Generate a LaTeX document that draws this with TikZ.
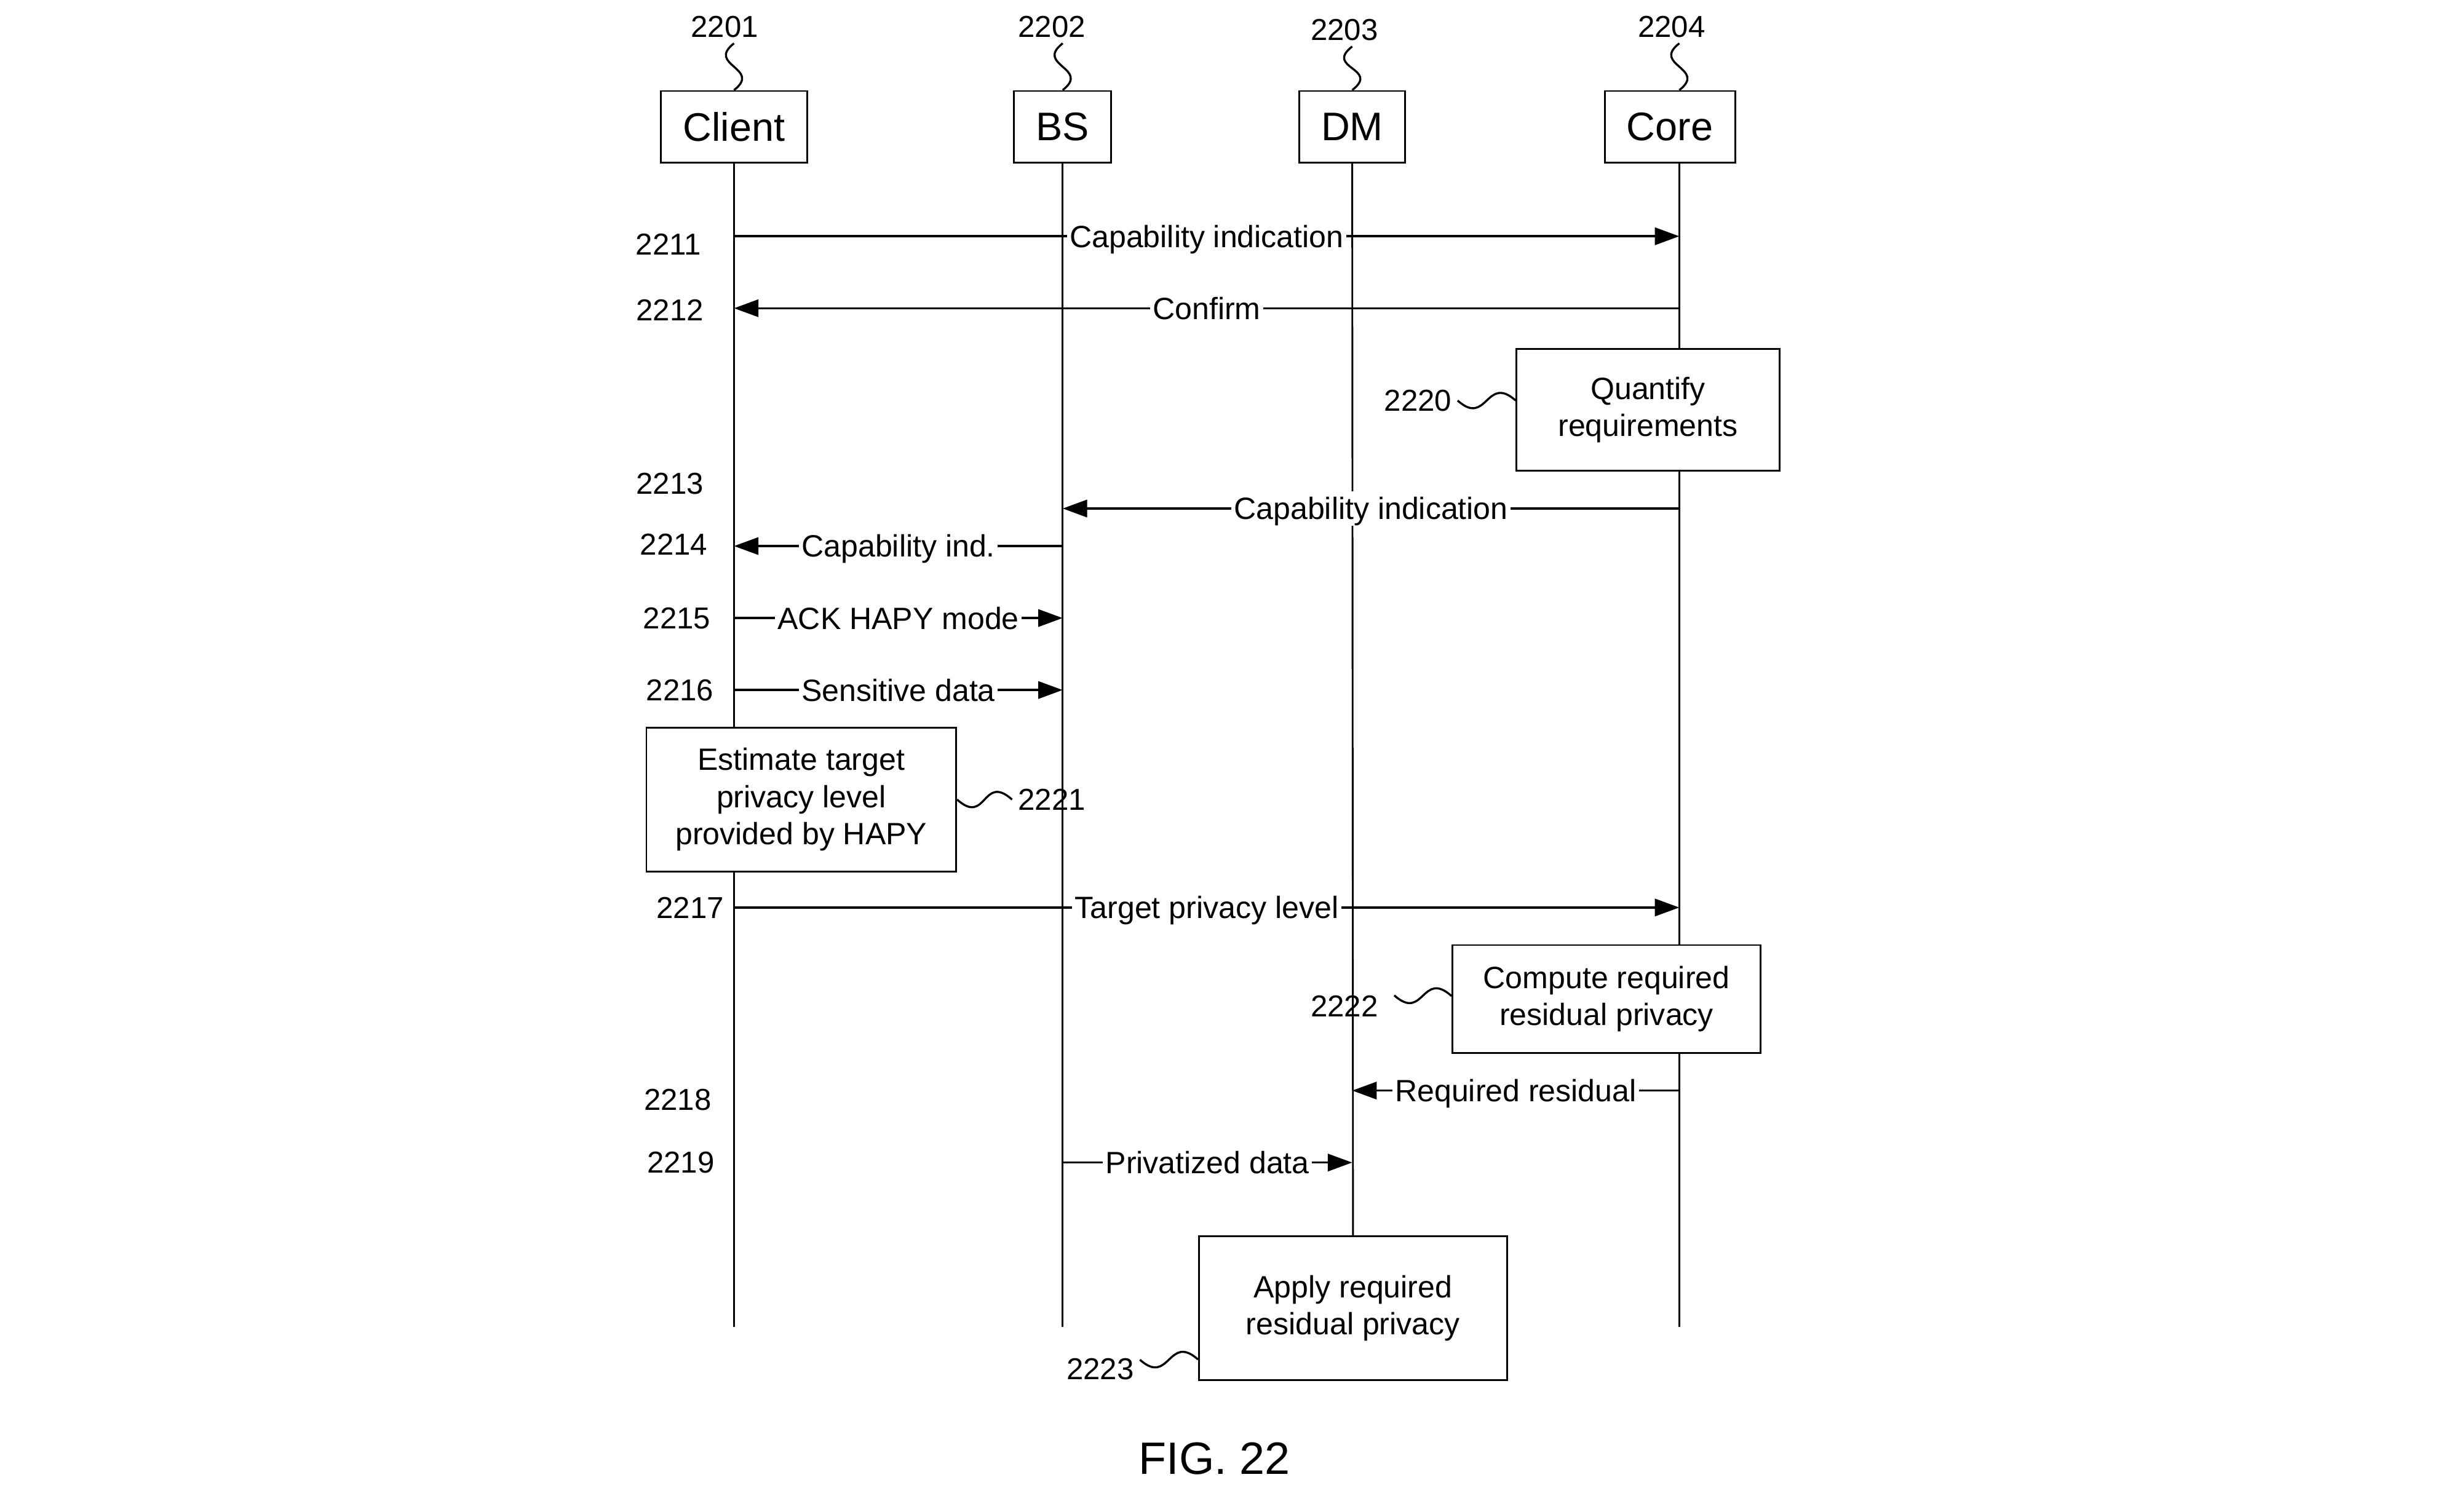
\documentclass[tikz,border=0pt]{standalone}
\usepackage{fontspec}
\setmainfont{Liberation Sans}
\usetikzlibrary{arrows.meta}

\newcommand{\lblfont}{\fontsize{11.2}{13.5}\selectfont}

\begin{document}
\begin{tikzpicture}[
      x=0.02cm, y=-0.02cm,
      head/.style = {draw, line width=0.65pt, inner xsep=8pt,
                     minimum height=26pt, font=\fontsize{14.5}{17}\selectfont},
      proc/.style = {draw, fill=white, line width=0.65pt, align=center,
                     minimum width=3.94cm, font=\lblfont},
      ref/.style  = {inner sep=2pt, font=\fontsize{11}{13}\selectfont},
      life/.style = {line width=0.65pt},
      msg/.style  = {-{Triangle[length=8.9pt,width=6.3pt]}, line width=0.8pt},
      lbl/.style  = {fill=white, inner sep=1pt, text height=9.2pt,
                     text depth=1.2pt, font=\lblfont},
      wig/.style  = {line width=0.75pt,
                     to path={.. controls +(19,17) and +(-19,-17) .. (\tikztotarget)}},
      wigv/.style = {line width=0.75pt,
                     to path={.. controls +(-18,14) and +(18,-14) .. (\tikztotarget)}},
    ]
    \useasboundingbox (0,0) rectangle (1568,966);

    % entities
    \node[head] (client) at (469,81)  {Client};
    \node[head] (bs)     at (679,81)  {BS};
    \node[head] (dm)     at (864,81)  {DM};
    \node[head] (core)   at (1067,81) {Core};
    \coordinate (coreX) at (1073,81);
    \coordinate (bot)   at (0,848);

    \node[ref] (n2201) at (463,17)  {2201};
    \node[ref] (n2202) at (672,17)  {2202};
    \node[ref] (n2203) at (859,19)  {2203};
    \node[ref] (n2204) at (1068,17) {2204};
    \draw[wigv] (n2201.south -| client) to (client.north);
    \draw[wigv] (n2202.south -| bs)     to (bs.north);
    \draw[wigv] (n2203.south -| dm)     to (dm.north);
    \draw[wigv] (n2204.south -| coreX)  to (coreX |- core.north);

    % lifelines
    \draw[life] (client.south)       -- (client |- bot);
    \draw[life] (bs.south)           -- (bs |- bot);
    \draw[life] (coreX |- core.south) -- (coreX |- bot);

    % processing steps
    \node[proc, minimum width=3.36cm, minimum height=1.56cm] (quant) at (1053,262)
          {Quantify\\requirements};
    \node[proc, minimum width=3.96cm, minimum height=1.84cm] (est) at (512,511)
          {Estimate target\\privacy level\\provided by HAPY};
    \node[proc, minimum height=1.38cm] (comp) at (1026.5,638.5)
          {Compute required\\residual privacy};
    \node[proc, minimum height=1.84cm] (apply) at (864.5,836)
          {Apply required\\residual privacy};
    \draw[life] (dm.south) -- (apply.north);

    \node[ref] (n2220) at (906,256) {2220};
    \node[ref] (n2221) at (672,511) {2221};
    \node[ref] (n2222) at (859,643) {2222};
    \node[ref] (n2223) at (703,875) {2223};
    \draw[wig] (n2220.east) to (quant.west |- n2220);
    \draw[wig] (est.east)   to (n2221.west);
    \draw[wig] ([xshift=3.7pt,yshift=3.9pt]n2222.east) to ([yshift=1.1pt]comp.west);
    \draw[wig] ([yshift=3.4pt]n2223.east) to ([yshift=7.8pt]apply.south west);

    % messages
    \coordinate (r11) at (0,151);
    \coordinate (r12) at (0,197);
    \coordinate (r13) at (0,325);
    \coordinate (r14) at (0,349);
    \coordinate (r15) at (0,395);
    \coordinate (r16) at (0,441);
    \coordinate (r17) at (0,580);
    \coordinate (r18) at (0,697);
    \coordinate (r19) at (0,743);

    \draw[msg] (client |- r11) -- node[lbl]{Capability indication} (coreX |- r11);
    \draw[msg] (coreX |- r12)  -- node[lbl]{Confirm} (client |- r12);
    \draw[msg] (coreX |- r13)  -- node[lbl]{Capability indication} (bs |- r13);
    \draw[msg] (bs |- r14)     -- node[lbl]{Capability ind.} (client |- r14);
    \draw[msg] (client |- r15) -- node[lbl]{ACK HAPY mode} (bs |- r15);
    \draw[msg] (client |- r16) -- node[lbl]{Sensitive data} (bs |- r16);
    \draw[msg] (client |- r17) -- node[lbl]{Target privacy level} (coreX |- r17);
    \draw[msg] (coreX |- r18)  -- node[lbl]{Required residual} (dm |- r18);
    \draw[msg] (bs |- r19)     -- node[lbl]{Privatized data} (dm |- r19);

    \node[ref] (n2211) at (427,156) {2211};
    \node[ref] (n2212) at (428,198) {2212};
    \node[ref] (n2213) at (428,309) {2213};
    \node[ref] (n2214) at (430.5,348) {2214};
    \node[ref] (n2215) at (432.5,395) {2215};
    \node[ref] (n2216) at (434.5,441) {2216};
    \node[ref] (n2217) at (441,580) {2217};
    \node[ref] (n2218) at (433,703) {2218};
    \node[ref] (n2219) at (435,743) {2219};

    \node[font=\fontsize{16.5}{20}\selectfont] (fig) at (776,932) {FIG. 22};
  \end{tikzpicture}
\end{document}
